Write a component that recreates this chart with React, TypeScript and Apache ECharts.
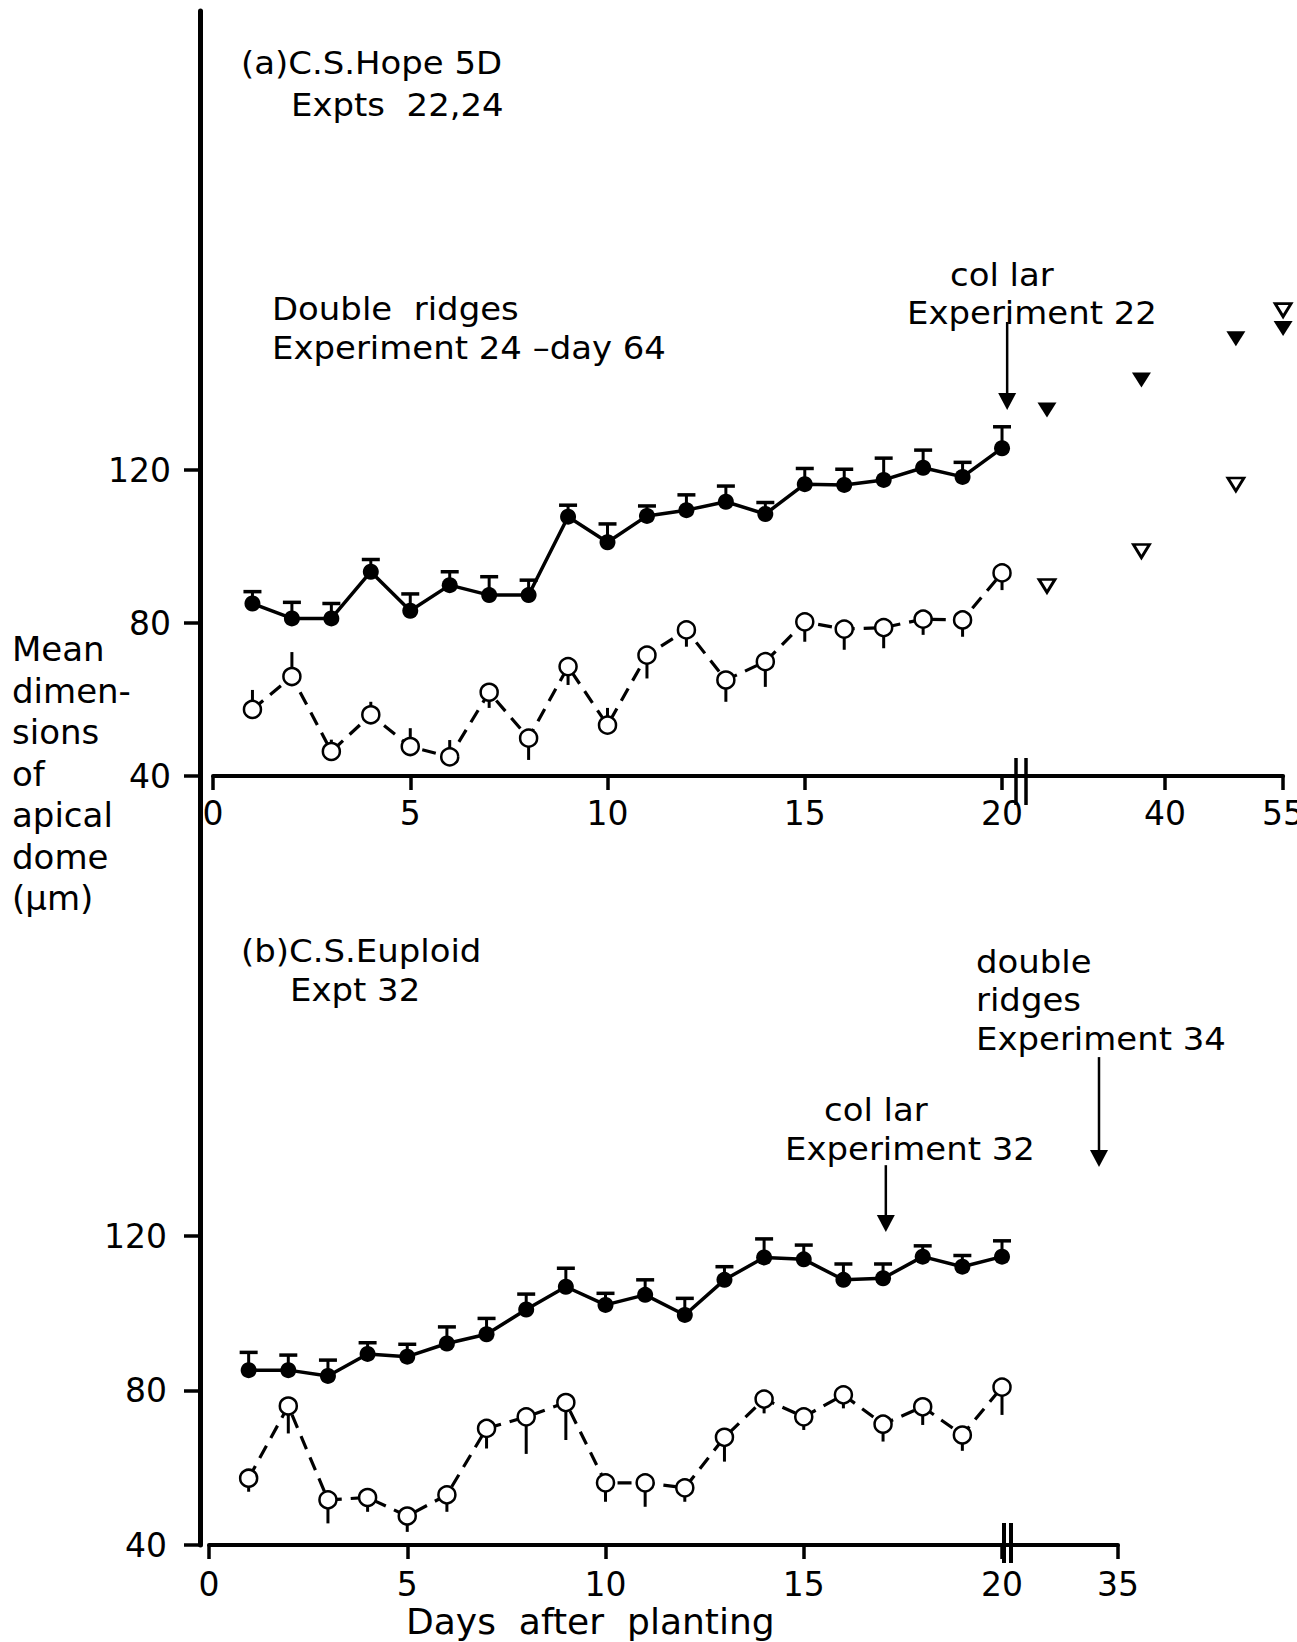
import React, { useEffect, useRef } from "react";
import * as echarts from "echarts";

// ---------- data ----------
const days = [1, 2, 3, 4, 5, 6, 7, 8, 9, 10, 11, 12, 13, 14, 15, 16, 17, 18, 19, 20];

// Panel (a) C.S. Hope 5D
const aFilled = [85.1, 81.2, 81.2, 93.4, 83.2, 89.9, 87.3, 87.3, 107.8, 101.1, 108.0, 109.5, 111.7, 108.5, 116.3, 116.1, 117.4, 120.6, 118.2, 125.7];
const aFilledUpper = [88.2, 85.4, 85.1, 96.6, 87.6, 93.4, 92.1, 91.2, 110.8, 105.9, 110.6, 113.5, 115.8, 111.5, 120.4, 120.2, 123.1, 125.2, 122.0, 131.3];
const aOpen = [57.4, 66.0, 46.4, 56.0, 47.7, 45.0, 61.9, 49.9, 68.6, 53.3, 71.6, 78.2, 65.1, 69.9, 80.3, 78.4, 78.8, 81.0, 80.8, 93.1];
const aOpenBarEnd = [62.5, 72.4, 49.5, 59.4, 52.5, 49.4, 57.8, 44.2, 63.8, 57.8, 65.5, 73.8, 59.4, 63.3, 75.1, 73.0, 73.4, 76.9, 76.4, 88.6];
const aLateDays = [25, 37, 49, 55];
const aLateFilled = [135.7, 143.5, 154.3, 157.0];
const aLateOpen = [89.7, 98.8, 116.2, 161.8];

// Panel (b) C.S. Euploid
const bFilled = [85.3, 85.3, 83.8, 89.5, 88.8, 92.2, 94.6, 101.0, 106.9, 102.2, 104.8, 99.6, 108.7, 114.5, 114.0, 108.7, 109.1, 114.7, 112.1, 114.7];
const bFilledUpper = [89.9, 89.2, 87.9, 92.4, 92.0, 96.5, 98.7, 105.0, 111.7, 105.2, 108.7, 103.9, 112.1, 119.3, 117.7, 112.8, 112.8, 117.5, 115.0, 118.8];
const bOpen = [57.3, 76.0, 51.7, 52.3, 47.5, 53.0, 70.2, 73.2, 76.9, 56.1, 56.1, 54.8, 67.9, 77.8, 73.2, 78.9, 71.3, 75.8, 68.5, 80.9];
const bOpenBarEnd = [53.8, 68.9, 45.6, 48.6, 43.4, 48.6, 65.0, 63.6, 67.2, 51.2, 49.9, 51.2, 61.6, 74.1, 69.8, 75.4, 66.8, 71.1, 64.4, 73.7];

// ticks
const yTicks = [40, 80, 120];
const mainXTicks = [0, 5, 10, 15, 20];
const aLateXTicks = [40, 55];
const bLateXTicks = [35];

// arrows: [day, start value, tip value]
const aArrow = [[20.13, 158.7, 135.7]];
const bArrow32 = [[17.07, 138.4, 121.1]];
const bArrow34 = [[34, 166.4, 137.9]];

const FONT = "DejaVu Sans";

function errRender(cap: boolean) {
  return (params: any, api: any) => {
    const x = api.value(0);
    const p0 = api.coord([x, api.value(1)]);
    const p1 = api.coord([x, api.value(2)]);
    const children: any[] = [
      { type: "line", shape: { x1: p0[0], y1: p0[1], x2: p1[0], y2: p1[1] }, style: { stroke: "#000", lineWidth: 3 } },
    ];
    if (cap) {
      children.push({ type: "line", shape: { x1: p1[0] - 9, y1: p1[1], x2: p1[0] + 9, y2: p1[1] }, style: { stroke: "#000", lineWidth: 3.5 } });
    }
    return { type: "group", children };
  };
}

function arrowRender(params: any, api: any) {
  const x = api.value(0);
  const a = api.coord([x, api.value(1)]);
  const b = api.coord([x, api.value(2)]);
  const hw = 9, hh = 17;
  return {
    type: "group",
    children: [
      { type: "line", shape: { x1: a[0], y1: a[1], x2: b[0], y2: b[1] - hh + 2 }, style: { stroke: "#000", lineWidth: 2.5 } },
      { type: "polygon", shape: { points: [[b[0] - hw, b[1] - hh], [b[0] + hw, b[1] - hh], [b[0], b[1]]] }, style: { fill: "#000" } },
    ],
  };
}

function xAxisCfg(gridIndex: number, min: number, max: number, ticks: number[], margin: number) {
  return {
    type: "value",
    gridIndex,
    min,
    max,
    axisLine: { show: true, onZero: false, lineStyle: { color: "#000", width: 4 } },
    axisTick: { show: true, customValues: ticks, length: 14, lineStyle: { color: "#000", width: 3.5 } },
    axisLabel: { show: true, customValues: ticks, margin, color: "#000", fontSize: 33, fontFamily: FONT },
    splitLine: { show: false },
  };
}

function yAxisCfg(gridIndex: number, offset: number, margin: number, show: boolean) {
  return {
    type: "value",
    gridIndex,
    min: 40,
    max: 240,
    show,
    offset,
    axisLine: { show: true, onZero: false, lineStyle: { color: "#000", width: 5 } },
    axisTick: { show: true, customValues: yTicks, length: 16, lineStyle: { color: "#000", width: 3.5 } },
    axisLabel: { show: true, customValues: yTicks, margin, color: "#000", fontSize: 33, fontFamily: FONT },
    splitLine: { show: false },
  };
}

function filledLine(name: string, xi: number, vals: number[]) {
  return {
    name,
    type: "line",
    xAxisIndex: xi,
    yAxisIndex: xi,
    data: days.map((d, i) => [d, vals[i]]),
    symbol: "circle",
    symbolSize: 16,
    showSymbol: true,
    itemStyle: { color: "#000", opacity: 1 },
    lineStyle: { color: "#000", width: 3.5 },
    z: 3,
    silent: true,
  };
}

function openLine(name: string, xi: number, vals: number[]) {
  return {
    name,
    type: "line",
    xAxisIndex: xi,
    yAxisIndex: xi,
    data: days.map((d, i) => [d, vals[i]]),
    symbol: "circle",
    symbolSize: 17,
    showSymbol: true,
    itemStyle: { color: "#fff", borderColor: "#000", borderWidth: 2.5, opacity: 1 },
    lineStyle: { color: "#000", width: 3.2, type: [14, 9] },
    z: 3,
    silent: true,
  };
}

function errSeries(name: string, xi: number, vals: number[], ends: number[], cap: boolean) {
  return {
    name,
    type: "custom",
    xAxisIndex: xi,
    yAxisIndex: xi,
    data: days.map((d, i) => [d, vals[i], ends[i]]),
    encode: { x: 0, y: [1, 2] },
    renderItem: errRender(cap),
    z: 1,
    silent: true,
  };
}

function arrowSeries(name: string, xi: number, data: number[][]) {
  return {
    name,
    type: "custom",
    xAxisIndex: xi,
    yAxisIndex: xi,
    data,
    encode: { x: 0, y: [1, 2] },
    renderItem: arrowRender,
    z: 2,
    silent: true,
  };
}

function txt(text: string, x: number, y: number, size = 32, sx = 1.06) {
  return {
    type: "text",
    x,
    y,
    scaleX: sx,
    silent: true,
    style: { text, fill: "#000", font: `${size}px "${FONT}"`, verticalAlign: "middle", align: "left" },
  };
}

function vline(x: number, y1: number, y2: number, w = 3) {
  return { type: "line", silent: true, shape: { x1: x, y1, x2: x, y2 }, style: { stroke: "#000", lineWidth: w } };
}

const leftLabel = ["Mean", "dimen-", "sions", "of", "apical", "dome", "(μm)"];

const option: any = {
  animation: false,
  backgroundColor: "#fff",
  textStyle: { fontFamily: FONT, color: "#000" },
  grid: [
    { left: 213, top: 11, width: 812.7, height: 765, outerBoundsMode: "none", containLabel: false },
    { left: 1027.3, top: 11, width: 255.8, height: 765, outerBoundsMode: "none", containLabel: false },
    { left: 209, top: 773, width: 804.9, height: 772, outerBoundsMode: "none", containLabel: false },
    { left: 1013.5, top: 773, width: 104.5, height: 772, outerBoundsMode: "none", containLabel: false },
  ],
  xAxis: [
    xAxisCfg(0, 0, 20.6, mainXTicks, 21),
    xAxisCfg(1, 22.5, 55, aLateXTicks, 21),
    xAxisCfg(2, 0, 20.3, mainXTicks, 23),
    xAxisCfg(3, 29.5, 35, bLateXTicks, 23),
  ],
  yAxis: [
    yAxisCfg(0, 13, 29, true),
    yAxisCfg(1, 0, 0, false),
    yAxisCfg(2, 9, 33, true),
    yAxisCfg(3, 0, 0, false),
  ],
  series: [
    errSeries("a filled error", 0, aFilled, aFilledUpper, true),
    errSeries("a open error", 0, aOpen, aOpenBarEnd, false),
    filledLine("a filled", 0, aFilled),
    openLine("a open", 0, aOpen),
    {
      name: "a late filled",
      type: "scatter",
      xAxisIndex: 1,
      yAxisIndex: 1,
      data: aLateDays.map((d, i) => [d, aLateFilled[i]]),
      symbol: "triangle",
      symbolRotate: 180,
      symbolSize: [19, 15],
      itemStyle: { color: "#000", opacity: 1 },
      clip: false,
      silent: true,
    },
    {
      name: "a late open",
      type: "scatter",
      xAxisIndex: 1,
      yAxisIndex: 1,
      data: aLateDays.map((d, i) => [d, aLateOpen[i]]),
      symbol: "triangle",
      symbolRotate: 180,
      symbolSize: [16, 13],
      itemStyle: { color: "#fff", borderColor: "#000", borderWidth: 2.8, opacity: 1 },
      clip: false,
      silent: true,
    },
    arrowSeries("a arrow", 0, aArrow),
    errSeries("b filled error", 2, bFilled, bFilledUpper, true),
    errSeries("b open error", 2, bOpen, bOpenBarEnd, false),
    filledLine("b filled", 2, bFilled),
    openLine("b open", 2, bOpen),
    arrowSeries("b arrow 32", 2, bArrow32),
    arrowSeries("b arrow 34", 3, bArrow34),
  ],
  graphic: [
    txt("(a)C.S.Hope 5D", 241, 63),
    txt("Expts  22,24", 291, 105),
    txt("Double  ridges", 272, 309),
    txt("Experiment 24 –day 64", 272, 348),
    txt("col lar", 950, 275),
    txt("Experiment 22", 907, 313),
    ...leftLabel.map((t, i) => txt(t, 12, 649 + i * 41.5, 34, 1)),
    txt("(b)C.S.Euploid", 241, 951),
    txt("Expt 32", 290, 990),
    txt("double", 976, 962),
    txt("ridges", 976, 1000),
    txt("Experiment 34", 976, 1039),
    txt("col lar", 824, 1110),
    txt("Experiment 32", 785, 1149),
    txt("Days  after  planting", 406, 1622, 35, 1.03),
    vline(1016, 758, 805, 3.5),
    vline(1026, 758, 805, 3.5),
    vline(1004, 1523, 1563, 4),
    vline(1011, 1523, 1563, 4),
  ],
};

export default function App() {
  const ref = useRef<HTMLDivElement>(null);
  useEffect(() => {
    document.body.style.margin = "0";
    const chart = echarts.init(ref.current as HTMLDivElement, null, { renderer: "svg" });
    chart.setOption(option);
    return () => chart.dispose();
  }, []);
  return <div ref={ref} style={{ width: 1297, height: 1642, background: "#fff" }} />;
}
